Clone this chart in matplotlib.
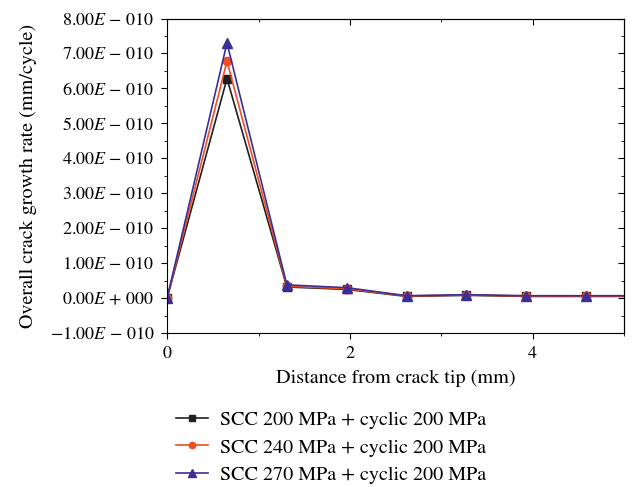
import numpy as np
import matplotlib.pyplot as plt
from matplotlib.ticker import MultipleLocator, FuncFormatter, NullFormatter

# distance from crack tip (mm)
distance = [0.0, 0.655, 1.31, 1.965, 2.62, 3.275, 3.93, 4.585, 5.24]
# overall crack growth rate (mm/cycle)
scc200 = [0.0, 6.28e-10, 0.32e-10, 0.25e-10, 0.05e-10, 0.08e-10, 0.05e-10, 0.05e-10, 0.05e-10]
scc240 = [0.0, 6.78e-10, 0.34e-10, 0.27e-10, 0.06e-10, 0.09e-10, 0.06e-10, 0.06e-10, 0.06e-10]
scc270 = [0.0, 7.30e-10, 0.38e-10, 0.30e-10, 0.07e-10, 0.10e-10, 0.07e-10, 0.07e-10, 0.07e-10]
labels = ['SCC 200 MPa + cyclic 200 MPa',
          'SCC 240 MPa + cyclic 200 MPa',
          'SCC 270 MPa + cyclic 200 MPa']

plt.rcParams['font.family'] = 'STIXGeneral'
plt.rcParams['mathtext.fontset'] = 'stix'
plt.rcParams['font.size'] = 14.5

fig = plt.figure(figsize=(6.33, 4.87), dpi=100)
ax = fig.add_axes([0.264, 0.316, 0.722, 0.646])

ax.plot(distance, scc200, color='#231f20', marker='s', markersize=5.5, linewidth=1.2, label=labels[0])
ax.plot(distance, scc240, color='#f04e23', marker='o', markersize=6, linewidth=1.2, label=labels[1])
ax.plot(distance, scc270, color='#3a2f96', marker='^', markersize=7, linewidth=1.2, label=labels[2])

ax.set_xlim(0, 5)
ax.set_ylim(-1e-10, 8e-10)
ax.xaxis.set_major_locator(MultipleLocator(2))
ax.xaxis.set_minor_locator(MultipleLocator(1))
ax.yaxis.set_major_locator(MultipleLocator(1e-10))
ax.yaxis.set_minor_locator(MultipleLocator(0.5e-10))


def sci_fmt(v, pos):
    m = round(v / 1e-10)
    if m == 0:
        return '0.00$E$ + 000'
    sign = '\u2212' if m < 0 else ''
    return f'{sign}{abs(m)}.00$E$ \u2212 010'


ax.yaxis.set_major_formatter(FuncFormatter(sci_fmt))
ax.tick_params(which='both', direction='out', top=False, right=False, labelsize=13)
ax.tick_params(which='major', length=4, pad=5)
ax.tick_params(which='minor', length=2.5)
ax.set_xlabel('Distance from crack tip (mm)', labelpad=6)
ax.set_ylabel('Overall crack growth rate (mm/cycle)', labelpad=9)

# mirrored ticks on top and right, pointing inward
top = ax.secondary_xaxis('top')
top.xaxis.set_major_locator(MultipleLocator(2))
top.xaxis.set_minor_locator(MultipleLocator(1))
top.xaxis.set_major_formatter(NullFormatter())
top.tick_params(which='both', direction='in')
top.tick_params(which='major', length=4)
top.tick_params(which='minor', length=2.5)
right = ax.secondary_yaxis('right')
right.yaxis.set_major_locator(MultipleLocator(1e-10))
right.yaxis.set_minor_locator(MultipleLocator(0.5e-10))
right.yaxis.set_major_formatter(NullFormatter())
right.tick_params(which='both', direction='in')
right.tick_params(which='major', length=4)
right.tick_params(which='minor', length=2.5)

fig.legend(loc='upper left', bbox_to_anchor=(0.265, 0.172), frameon=False,
           handlelength=1.6, handletextpad=0.6, labelspacing=0.45, borderaxespad=0,
           markerscale=0.75)

fig.savefig('out.png', dpi=100)
